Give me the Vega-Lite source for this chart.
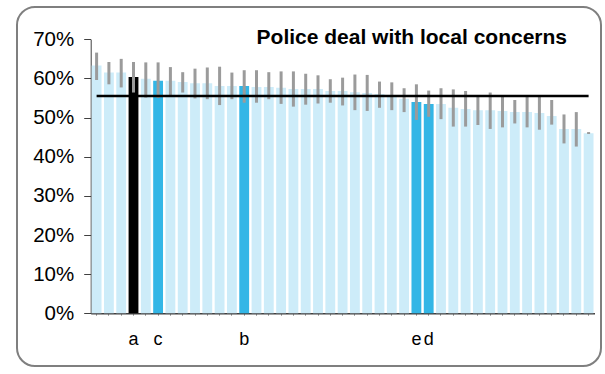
{
  "$schema": "https://vega.github.io/schema/vega-lite/v6.json",
  "width": 584,
  "height": 359,
  "autosize": {"type": "none"},
  "padding": {"left": 17, "top": 7, "right": 4, "bottom": 8},
  "background": "white",
  "config": {
    "view": {"stroke": "#7f7f7f", "strokeWidth": 2, "cornerRadius": 18, "fill": "white"},
    "font": "Liberation Sans"
  },
  "title": {
    "text": "Police deal with local concerns",
    "font": "Liberation Sans",
    "fontSize": 21,
    "fontWeight": "bold",
    "color": "#000000",
    "anchor": "end",
    "frame": "group",
    "orient": "top",
    "offset": -58,
    "baseline": "alphabetic",
    "dx": -34
  },
  "data": {
    "values": [
      {"name": "p01", "v": 0.633, "lo": 0.596, "hi": 0.666, "grp": "base", "avg": 0.555},
      {"name": "p02", "v": 0.615, "lo": 0.585, "hi": 0.642, "grp": "base", "avg": 0.555},
      {"name": "p03", "v": 0.615, "lo": 0.577, "hi": 0.650, "grp": "base", "avg": 0.555},
      {"name": "a", "v": 0.604, "lo": 0.564, "hi": 0.642, "grp": "key", "avg": 0.555},
      {"name": "p05", "v": 0.599, "lo": 0.551, "hi": 0.641, "grp": "base", "avg": 0.555},
      {"name": "c", "v": 0.594, "lo": 0.550, "hi": 0.641, "grp": "hi", "avg": 0.555},
      {"name": "p07", "v": 0.594, "lo": 0.555, "hi": 0.629, "grp": "base", "avg": 0.555},
      {"name": "p08", "v": 0.591, "lo": 0.564, "hi": 0.616, "grp": "base", "avg": 0.555},
      {"name": "p09", "v": 0.588, "lo": 0.549, "hi": 0.625, "grp": "base", "avg": 0.555},
      {"name": "p10", "v": 0.588, "lo": 0.547, "hi": 0.628, "grp": "base", "avg": 0.555},
      {"name": "p11", "v": 0.581, "lo": 0.532, "hi": 0.630, "grp": "base", "avg": 0.555},
      {"name": "p12", "v": 0.581, "lo": 0.547, "hi": 0.615, "grp": "base", "avg": 0.555},
      {"name": "b", "v": 0.581, "lo": 0.538, "hi": 0.621, "grp": "hi", "avg": 0.555},
      {"name": "p14", "v": 0.578, "lo": 0.538, "hi": 0.621, "grp": "base", "avg": 0.555},
      {"name": "p15", "v": 0.578, "lo": 0.547, "hi": 0.616, "grp": "base", "avg": 0.555},
      {"name": "p16", "v": 0.576, "lo": 0.535, "hi": 0.618, "grp": "base", "avg": 0.555},
      {"name": "p17", "v": 0.573, "lo": 0.528, "hi": 0.618, "grp": "base", "avg": 0.555},
      {"name": "p18", "v": 0.573, "lo": 0.533, "hi": 0.612, "grp": "base", "avg": 0.555},
      {"name": "p19", "v": 0.573, "lo": 0.536, "hi": 0.608, "grp": "base", "avg": 0.555},
      {"name": "p20", "v": 0.568, "lo": 0.538, "hi": 0.598, "grp": "base", "avg": 0.555},
      {"name": "p21", "v": 0.568, "lo": 0.531, "hi": 0.602, "grp": "base", "avg": 0.555},
      {"name": "p22", "v": 0.565, "lo": 0.519, "hi": 0.610, "grp": "base", "avg": 0.555},
      {"name": "p23", "v": 0.563, "lo": 0.517, "hi": 0.609, "grp": "base", "avg": 0.555},
      {"name": "p24", "v": 0.560, "lo": 0.525, "hi": 0.592, "grp": "base", "avg": 0.555},
      {"name": "p25", "v": 0.558, "lo": 0.519, "hi": 0.590, "grp": "base", "avg": 0.555},
      {"name": "p26", "v": 0.548, "lo": 0.514, "hi": 0.575, "grp": "base", "avg": 0.555},
      {"name": "e", "v": 0.540, "lo": 0.494, "hi": 0.585, "grp": "hi", "avg": 0.555},
      {"name": "d", "v": 0.535, "lo": 0.502, "hi": 0.569, "grp": "hi", "avg": 0.555},
      {"name": "p29", "v": 0.535, "lo": 0.496, "hi": 0.575, "grp": "base", "avg": 0.555},
      {"name": "p30", "v": 0.525, "lo": 0.477, "hi": 0.572, "grp": "base", "avg": 0.555},
      {"name": "p31", "v": 0.522, "lo": 0.477, "hi": 0.568, "grp": "base", "avg": 0.555},
      {"name": "p32", "v": 0.519, "lo": 0.481, "hi": 0.555, "grp": "base", "avg": 0.555},
      {"name": "p33", "v": 0.519, "lo": 0.471, "hi": 0.564, "grp": "base", "avg": 0.555},
      {"name": "p34", "v": 0.517, "lo": 0.475, "hi": 0.555, "grp": "base", "avg": 0.555},
      {"name": "p35", "v": 0.514, "lo": 0.485, "hi": 0.545, "grp": "base", "avg": 0.555},
      {"name": "p36", "v": 0.514, "lo": 0.475, "hi": 0.555, "grp": "base", "avg": 0.555},
      {"name": "p37", "v": 0.512, "lo": 0.469, "hi": 0.555, "grp": "base", "avg": 0.555},
      {"name": "p38", "v": 0.504, "lo": 0.482, "hi": 0.545, "grp": "base", "avg": 0.555},
      {"name": "p39", "v": 0.471, "lo": 0.434, "hi": 0.508, "grp": "base", "avg": 0.555},
      {"name": "p40", "v": 0.471, "lo": 0.426, "hi": 0.514, "grp": "base", "avg": 0.555},
      {"name": "p41", "v": 0.460, "lo": 0.458, "hi": 0.463, "grp": "base", "avg": 0.555}
    ]
  },
  "encoding": {
    "x": {
      "field": "name",
      "type": "nominal",
      "sort": null,
      "scale": {"range": [73.7, 577.5], "paddingInner": 0.2, "paddingOuter": 0.08},
      "axis": {
        "title": null,
        "orient": "bottom",
        "offset": -52.7,
        "labelAngle": 0,
        "labelExpr": "indexof(['a','b','c','d','e'], datum.value) >= 0 ? datum.value : ''",
        "labelFont": "Liberation Sans",
        "labelFontSize": 18,
        "labelColor": "#000000",
        "labelBaseline": "alphabetic",
        "labelPadding": 29,
        "ticks": true,
        "tickSize": 2,
        "tickColor": "#9a9a9a",
        "domainColor": "#404040",
        "domainWidth": 1.5,
        "grid": false
      }
    }
  },
  "layer": [
    {
      "mark": {"type": "bar"},
      "encoding": {
        "y": {
          "field": "v",
          "type": "quantitative",
          "scale": {"domain": [0, 0.7], "range": [306.3, 32.3], "nice": false, "zero": true},
          "axis": {
            "title": null,
            "offset": -73.7,
            "values": [0, 0.1, 0.2, 0.3, 0.4, 0.5, 0.6, 0.7],
            "format": ".0%",
            "labelFont": "Liberation Sans",
            "labelFontSize": 20.5,
            "labelColor": "#000000",
            "labelPadding": 10,
            "tickSize": 7,
            "tickColor": "#404040",
            "domainColor": "#404040",
            "grid": false
          }
        },
        "color": {
          "field": "grp",
          "type": "nominal",
          "scale": {"domain": ["base", "hi", "key"], "range": ["#cdecf9", "#33b6e6", "#000000"]},
          "legend": null
        }
      }
    },
    {
      "mark": {"type": "rule", "color": "#9b9b9b", "strokeWidth": 3},
      "encoding": {
        "y": {"field": "lo", "type": "quantitative"},
        "y2": {"field": "hi"}
      }
    },
    {
      "mark": {"type": "line", "color": "#000000", "strokeWidth": 2.5},
      "encoding": {
        "y": {"field": "avg", "type": "quantitative"}
      }
    }
  ]
}
